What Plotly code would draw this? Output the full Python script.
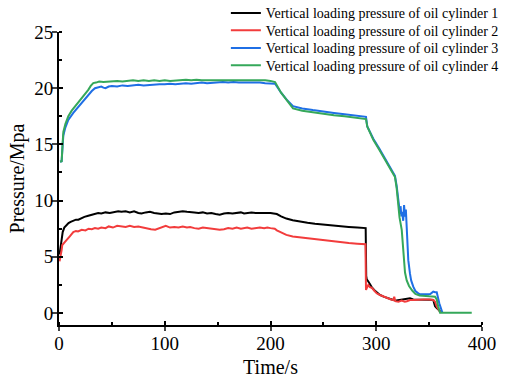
import plotly.graph_objects as go

# ---------------- data ----------------
t1 = [0.5, 1.5, 2.5, 3.5, 5, 7, 9, 11, 13.5, 16, 18.3, 21, 24, 27.7, 31, 34, 37, 40, 44, 48, 52, 56, 59, 63,
      67, 71, 75, 78, 82, 86, 90, 94, 97, 101, 105, 109, 113, 117, 121, 124, 128, 132, 136, 140, 144, 148,
      152, 156, 160, 164, 168, 172, 175, 178, 182, 186, 190, 194, 197, 200, 203, 206, 210, 215, 221, 228,
      235, 242, 250, 258, 266, 274, 282, 290.0, 290.5, 291.0, 292.5, 294, 295.7, 298, 300.4, 303.5, 307,
      311, 316, 319, 322, 325, 328.8, 331.9, 335, 338, 342, 346, 350.8, 353.9, 355.6, 357.2, 359, 360.3, 361.5]
p1 = [5.2, 6.0, 6.6, 7.2, 7.6, 7.85, 8.0, 8.1, 8.2, 8.3, 8.3, 8.45, 8.55, 8.65, 8.75, 8.8, 8.9, 8.85, 8.95, 8.9,
      9.0, 9.05, 9.0, 9.05, 8.95, 9.05, 8.9, 8.85, 8.95, 9.0, 8.9, 8.85, 8.8, 8.85, 8.8, 8.95, 9.0, 9.05, 9.0,
      9.0, 8.95, 8.9, 8.95, 8.85, 8.9, 8.8, 8.75, 8.85, 8.9, 8.85, 8.9, 8.95, 8.85, 8.9, 8.95, 8.9, 8.9, 8.95,
      8.9, 8.9, 8.85, 8.8, 8.6, 8.4, 8.25, 8.12, 8.02, 7.93, 7.85, 7.78, 7.71, 7.66, 7.6, 7.55, 3.3, 3.0, 2.8,
      2.55, 2.3, 2.05, 1.85, 1.6, 1.45, 1.3, 1.15, 1.1, 1.15, 1.2, 1.25, 1.3, 1.2, 1.2, 1.22, 1.2, 1.18, 1.15,
      0.6, 0.45, 0.3, 0.12, 0.05]

t2 = [0.5, 1.5, 2.5, 3.1, 5, 7.3, 10, 13.5, 16, 18, 21.5, 25, 28, 31, 34, 37, 40, 44, 47, 51, 55, 59, 63, 67,
      71, 75, 79, 83, 87, 91, 94, 97, 101, 105, 109, 113, 117, 121, 124, 128, 132, 136, 140, 144, 148, 152,
      156, 160, 164, 168, 172, 175, 178, 182, 186, 190, 194, 197, 200, 204, 206, 210, 215, 221, 228, 235,
      242, 250, 258, 266, 274, 282, 289.8, 290.3, 292.5, 294, 295.7, 298, 300.4, 303.5, 307, 311, 314, 316,
      317, 318, 321, 324, 327, 329, 332, 335, 340, 345, 350, 353.9, 355.6, 357.2, 359, 360.3, 361.5]
p2 = [4.6, 5.0, 5.6, 6.05, 6.3, 6.5, 6.8, 7.2, 7.3, 7.25, 7.4, 7.35, 7.5, 7.45, 7.55, 7.5, 7.6, 7.55, 7.7,
      7.6, 7.75, 7.7, 7.65, 7.75, 7.65, 7.7, 7.6, 7.55, 7.45, 7.4, 7.5, 7.65, 7.75, 7.6, 7.65, 7.6, 7.7, 7.6,
      7.65, 7.55, 7.5, 7.6, 7.55, 7.5, 7.45, 7.4, 7.45, 7.55, 7.5, 7.6, 7.5, 7.55, 7.6, 7.5, 7.55, 7.6, 7.55,
      7.6, 7.55, 7.5, 7.35, 7.15, 6.95, 6.8, 6.72, 6.62, 6.55, 6.45, 6.38, 6.3, 6.23, 6.17, 6.12, 2.05, 2.5,
      2.3, 2.25, 2.0, 1.75, 1.6, 1.45, 1.3, 1.2, 1.15, 1.45, 1.05, 1.0, 1.1, 1.0, 1.05, 1.15, 1.15, 1.2, 1.2,
      1.2, 1.15, 1.0, 0.56, 0.3, 0.1, 0.05]

t3 = [1.0, 2.5, 3.5, 4.1, 6, 8.8, 13.5, 18.3, 23, 27.7, 31, 34, 37, 40, 42, 44, 47, 50, 55, 60, 65, 70, 75, 80,
      85, 90, 95, 100, 105, 110, 115, 120, 125, 130, 135, 140, 145, 150, 155, 160, 165, 170, 175, 180, 185,
      190, 195, 200, 204.3, 210, 216, 221.3, 230, 240, 250, 260, 270, 280, 290.3, 291.5, 297.2, 303, 308,
      313, 317.7, 319.3, 320.5, 321.5, 322.5, 323, 323.8, 324.5, 325.5, 326.3, 327.2, 328, 328.8, 329.7,
      330.3, 331.9, 333, 335, 337, 339.8, 341.4, 350.8, 353.9, 355.6, 357.2, 359.6, 361.9, 362.5]
p3 = [13.45, 13.5, 15.0, 15.8, 16.5, 17.17, 17.8, 18.35, 18.9, 19.4, 19.75, 20.0, 20.1, 20.15, 20.05, 20.0,
      20.15, 20.2, 20.15, 20.25, 20.2, 20.25, 20.3, 20.25, 20.3, 20.3, 20.35, 20.35, 20.4, 20.35, 20.4, 20.45,
      20.4, 20.45, 20.5, 20.45, 20.5, 20.5, 20.55, 20.5, 20.55, 20.5, 20.5, 20.55, 20.5, 20.5, 20.45, 20.45,
      20.4, 19.6, 18.9, 18.4, 18.2, 18.05, 17.9, 17.8, 17.68, 17.57, 17.45, 16.6, 15.5, 14.6, 13.8, 12.95,
      12.2, 11.3, 10.2, 9.3, 8.8, 9.5, 8.6, 9.0, 8.2, 9.6, 8.57, 9.2, 7.4, 5.9, 4.7, 3.5, 2.9, 2.34, 1.95,
      1.75, 1.66, 1.66, 1.9, 1.85, 1.84, 0.86, 0.03, 0.03]

t4 = [1.0, 2.5, 3.5, 4.1, 6, 8.8, 12, 15, 18.3, 22, 25, 27.7, 30, 32.4, 35, 38, 42, 46, 50, 55, 60, 65, 70, 75,
      80, 85, 90, 95, 100, 105, 110, 115, 120, 125, 130, 135, 140, 145, 150, 155, 160, 165, 170, 175, 180,
      185, 190, 195, 200, 204.3, 210, 216, 221.3, 230, 240, 250, 260, 270, 280, 290.3, 291.5, 297.2, 303,
      308, 313, 317.7, 319.3, 320.9, 322, 324.1, 325.6, 326.4, 327.2, 328.8, 331, 334, 337, 341, 345, 350,
      355.6, 357.2, 358.5, 360.3, 370, 380, 390.3]
p4 = [13.45, 13.5, 15.2, 16.1, 16.8, 17.5, 18.0, 18.35, 18.65, 19.1, 19.5, 19.85, 20.2, 20.45, 20.5, 20.6,
      20.55, 20.6, 20.6, 20.65, 20.6, 20.65, 20.7, 20.65, 20.7, 20.65, 20.7, 20.65, 20.7, 20.65, 20.7, 20.7,
      20.75, 20.7, 20.75, 20.7, 20.7, 20.75, 20.7, 20.7, 20.75, 20.7, 20.7, 20.75, 20.7, 20.7, 20.75, 20.7,
      20.65, 20.55, 19.6, 18.8, 18.2, 18.0, 17.85, 17.7, 17.6, 17.5, 17.38, 17.25, 16.6, 15.4, 14.5, 13.7,
      12.9, 12.1, 11.1, 9.46, 8.5, 7.4, 5.6, 5.0, 3.6, 2.9, 2.4, 2.0, 1.7, 1.55, 1.5, 1.48, 1.45, 1.2, 0.6,
      0.03, 0.03, 0.03, 0.03]

names = ["Vertical loading pressure of oil cylinder 1",
         "Vertical loading pressure of oil cylinder 2",
         "Vertical loading pressure of oil cylinder 3",
         "Vertical loading pressure of oil cylinder 4"]
colors = ["#000000", "#f23c3c", "#1f6fe5", "#35a85a"]

x_ticks = [0, 100, 200, 300, 400]
y_ticks = [0, 5, 10, 15, 20, 25]

FONT = "Liberation Serif, Times New Roman, serif"

legend_ids = ["legend", "legend2", "legend3", "legend4"]
legend_y = [1.0638, 1.0044, 0.9444, 0.885]

fig = go.Figure()
for t, p, n, c, lg in zip([t1, t2, t3, t4], [p1, p2, p3, p4], names, colors, legend_ids):
    fig.add_trace(go.Scatter(x=t, y=p, mode="lines", name=n, legend=lg,
                             line=dict(color=c, width=2)))

xr = [0, 400]
yr = [-1.07, 25]

legend_layout = {}
for lg, ly in zip(legend_ids, legend_y):
    legend_layout[lg] = dict(x=0.3945, y=ly, xanchor="left", yanchor="middle",
                             font=dict(family=FONT, size=14, color="black"),
                             bgcolor="rgba(0,0,0,0)", borderwidth=0, itemwidth=30)

fig.update_layout(
    width=506, height=378,
    margin=dict(l=59, r=24, t=32, b=53, autoexpand=False),
    paper_bgcolor="white", plot_bgcolor="white",
    font=dict(family=FONT, color="black", size=19),
    showlegend=True,
    xaxis=dict(range=xr, tickvals=x_ticks, ticks="outside", ticklen=4, tickwidth=1.5,
               showline=True, linecolor="black", linewidth=2, showgrid=False, zeroline=False,
               tickfont=dict(size=19, family=FONT), ticklabelstandoff=-4,
               minor=dict(ticks="inside", ticklen=3, dtick=50, tick0=0, tickcolor="black", tickwidth=1.5),
               title=dict(text="Time/s", font=dict(size=20, family=FONT), standoff=12)),
    yaxis=dict(range=yr, tickvals=y_ticks, ticks="outside", ticklen=5, tickwidth=1.5,
               showline=True, linecolor="black", linewidth=2, showgrid=False, zeroline=False,
               tickfont=dict(size=19, family=FONT), ticklabelstandoff=-5,
               minor=dict(ticks="inside", ticklen=3, dtick=2.5, tick0=0, tickcolor="black", tickwidth=1.5),
               title=dict(text="Pressure/Mpa", font=dict(size=20, family=FONT), standoff=4)),
    xaxis2=dict(range=xr, overlaying="x", anchor="y", side="bottom", tickvals=x_ticks,
                ticks="inside", ticklen=4, tickwidth=1.5, tickcolor="black",
                showticklabels=False, showgrid=False, zeroline=False, showline=False),
    yaxis2=dict(range=yr, overlaying="y", anchor="x", side="left", tickvals=y_ticks,
                ticks="inside", ticklen=4, tickwidth=1.5, tickcolor="black",
                showticklabels=False, showgrid=False, zeroline=False, showline=False),
    **legend_layout,
)
# invisible helper trace so the overlay axes (crossing major ticks) are drawn
fig.add_trace(go.Scatter(x=[None], y=[None], xaxis="x2", yaxis="y2", showlegend=False,
                         hoverinfo="skip"))

fig.write_html("out.html")
